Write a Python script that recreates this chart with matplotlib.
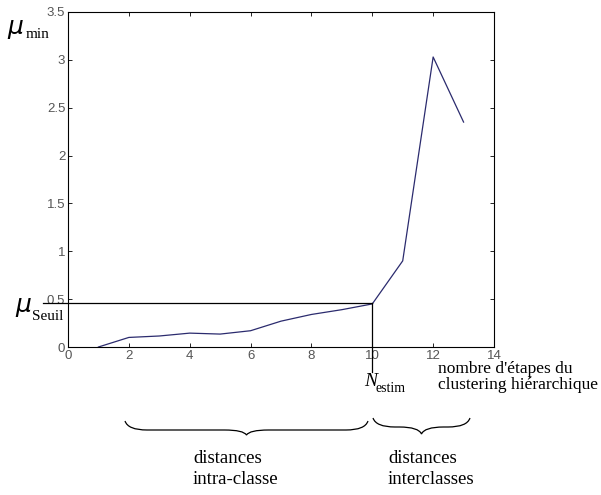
import matplotlib
matplotlib.use('Agg')
import matplotlib.pyplot as plt
from matplotlib.path import Path
from matplotlib.patches import PathPatch

# clustering steps and mu_min values
steps = [1, 2, 3, 4, 5, 6, 7, 8, 9, 10, 11, 12, 13]
mu_min = [0.0, 0.10, 0.115, 0.145, 0.135, 0.17, 0.27, 0.34, 0.39, 0.45, 0.90, 3.03, 2.35]
n_estim = 10
mu_seuil = 0.457
xticks = [0, 2, 4, 6, 8, 10, 12, 14]
yticks = [0, 0.5, 1, 1.5, 2, 2.5, 3, 3.5]
ytick_labels = ['0', '0.5', '1', '1.5', '2', '2.5', '3', '3.5']

W, H = 601, 495
fig = plt.figure(figsize=(W / 100, H / 100), dpi=100)
ax = fig.add_axes([68 / W, 1 - 347 / H, (494 - 68) / W, (347 - 12) / H])

ax.plot(steps, mu_min, color='#2b2b6e', lw=0.9)
ax.set_xlim(0, 14)
ax.set_ylim(0, 3.5)
ax.set_xticks(xticks)
ax.set_yticks(yticks)
ax.set_xticklabels([str(t) for t in xticks], family='Liberation Sans')
ax.set_yticklabels(ytick_labels, family='Liberation Sans')
ax.tick_params(direction='in', top=True, right=True, length=3, width=0.6,
               labelsize=9.5, labelcolor='#555555', pad=2)
for s in ax.spines.values():
    s.set_linewidth(0.8)

# threshold lines
ax.plot([-0.83, n_estim], [mu_seuil, mu_seuil], color='black', lw=0.9, clip_on=False)
ax.plot([n_estim, n_estim], [mu_seuil, -0.26], color='black', lw=0.9, clip_on=False)


def px(x, y):
    return (x / W, 1 - y / H)


serif = 'Liberation Serif'
fig.text(*px(7, 27), '\u03bc', fontsize=18, style='italic', family='DejaVu Sans', va='center')
fig.text(*px(26, 34), 'min', fontsize=11, family=serif, va='center')
fig.text(*px(15, 305), '\u03bc', fontsize=18, style='italic', family='DejaVu Sans', va='center')
fig.text(*px(32, 317), 'Seuil', fontsize=11, family=serif, va='center')
fig.text(*px(364, 382), 'N', fontsize=14, style='italic', family=serif, va='center')
fig.text(*px(376, 388), 'estim', fontsize=10, family=serif, va='center')
fig.text(*px(438, 377), "nombre d'étapes du\nclustering hiérarchique", fontsize=12.5,
         family=serif, va='center', linespacing=1.0)
fig.text(*px(193, 469), 'distances\nintra-classe', fontsize=13.5, family=serif,
         va='center', linespacing=1.35)
fig.text(*px(388, 469), 'distances\ninterclasses', fontsize=13.5, family=serif,
         va='center', linespacing=1.35)


def brace(x1, x2, yt, ym, yb):
    xm = (x1 + x2) / 2
    pts = [px(x1, yt), px(x1 + 3, ym), px(x1 + 22, ym),
           px(xm - 22, ym), px(xm - 3, ym), px(xm, yb),
           px(xm + 3, ym), px(xm + 22, ym),
           px(x2 - 22, ym), px(x2 - 3, ym), px(x2, yt)]
    codes = [Path.MOVETO, Path.CURVE3, Path.CURVE3,
             Path.LINETO, Path.CURVE3, Path.CURVE3,
             Path.CURVE3, Path.CURVE3,
             Path.LINETO, Path.CURVE3, Path.CURVE3]
    fig.add_artist(PathPatch(Path(pts, codes), fill=False, lw=0.9, color='black',
                             transform=fig.transFigure))


brace(125, 368, 421, 430, 435)
brace(373, 470, 418, 427, 434)

fig.savefig('out.png', dpi=100)
